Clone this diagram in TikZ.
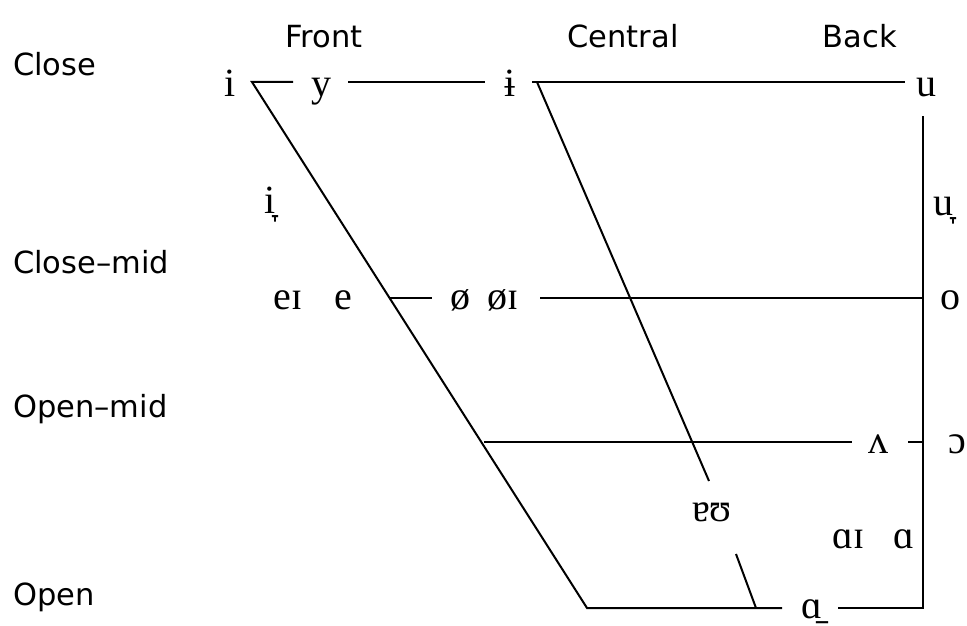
\documentclass[tikz,border=0pt]{standalone}
\usepackage{fontspec}
\setmainfont{Liberation Serif}
\newfontfamily\labfont{DejaVu Sans}
\begin{document}
\begin{tikzpicture}[x=1pt,y=-1pt,
  vow/.style={font=\fontsize{40}{44}\selectfont, inner sep=0pt, anchor=base},
  lab/.style={font=\labfont\fontsize{30.5}{36}\selectfont, inner sep=0pt, anchor=base west},
  col/.style={font=\labfont\fontsize{30.5}{36}\selectfont, inner sep=0pt, anchor=base},
  ln/.style={line width=2pt, line cap=butt}]
\useasboundingbox (0,0) rectangle (967,626);
% labels
\node[lab] (lclose) at (13,76) {Close};
\node[lab] (lclosemid) at (13,273) {Close–mid};
\node[lab] (lopenmid) at (13,417) {Open–mid};
\node[lab] (lopen) at (13,605) {Open};
\node[col] (lfront) at (324,48) {Front};
\node[col] (lcentral) at (623,48) {Central};
\node[col] (lback) at (860,48) {Back};
% vowels
\node[vow] (vi) at (230,96) {i};
\node[vow] (vy) at (321,96) {y};
\node[vow] (vbi) at (510,96) {ɨ};
\node[vow] (vu) at (926,96) {u};
\node[vow] (vil) at (270,213) {i̞};
\node[vow] (vul) at (943,215) {u̞};
\node[vow] (vei) at (288,309) {eɪ};
\node[vow] (ve) at (343,309) {e};
\node[vow] (vo1) at (460,309) {ø};
\node[vow] (vo1i) at (503,309) {øɪ};
\node[vow] (vo) at (950,309) {o};
\node[vow] (vwedge) at (878,453) {ʌ};
\node[vow] (vopeno) at (957,453) {ɔ};
\node[vow] (vau) at (712,521) {ɐʊ};
\node[vow] (vai) at (849,548) {ɑɪ};
\node[vow] (va) at (904,548) {ɑ};
\node[vow] (var) at (812,618) {ɑ̠};
% coordinates
\coordinate (c1) at (252,82);
\coordinate (c2) at (293,82);
\coordinate (c3) at (348,82);
\coordinate (c4) at (485,82);
\coordinate (c5) at (532,82);
\coordinate (c6) at (905,82);
\coordinate (ctop) at (537,82);
\coordinate (b1) at (587,608);
\coordinate (b2) at (782,608);
\coordinate (b3) at (838,608);
\coordinate (b4) at (923,608);
\coordinate (v1) at (923,116);
\coordinate (m1) at (390,298);
\coordinate (m2) at (432,298);
\coordinate (m3) at (540,298);
\coordinate (m4) at (923,298);
\coordinate (o1) at (484,442);
\coordinate (o2) at (852,442);
\coordinate (o3) at (908,442);
\coordinate (o4) at (923,442);
\coordinate (cm) at (709,481);
\coordinate (cb1) at (736,554);
\coordinate (cb2) at (756,608);
% lines
\draw[ln] (c2) -- (c1) -- (b1) -- (b2);
\draw[ln] (c3) -- (c4);
\draw[ln] (c5) -- (c6);
\draw[ln] (b3) -- (b4) -- (v1);
\draw[ln] (m1) -- (m2);
\draw[ln] (m3) -- (m4);
\draw[ln] (o1) -- (o2);
\draw[ln] (o3) -- (o4);
\draw[ln] (ctop) -- (cm);
\draw[ln] (cb1) -- (cb2);
\end{tikzpicture}
\end{document}
